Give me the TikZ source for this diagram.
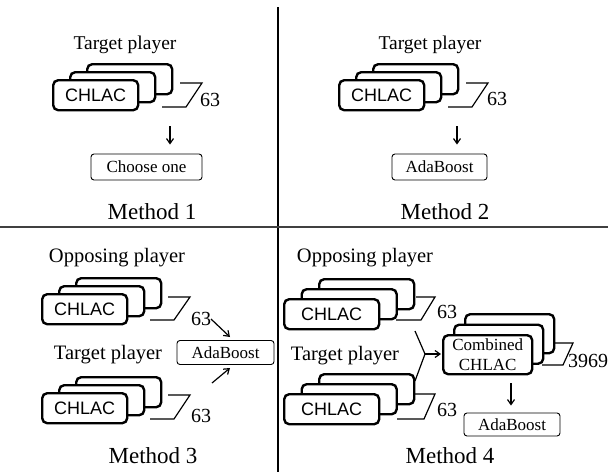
\documentclass[tikz,border=0pt]{standalone}
\usepackage{fontspec}
\setmainfont{Liberation Serif}
\newfontfamily\chsans{Liberation Sans}
\usetikzlibrary{arrows.meta}
\begin{document}
\begin{tikzpicture}[x=1pt,y=-1pt,
  cbox/.style={draw, line width=2.4pt, rounded corners=5pt, fill=white, inner sep=0pt, anchor=north west},
  sbox/.style={cbox, minimum width=85pt, minimum height=30pt},
  wbox/.style={cbox, minimum width=95pt, minimum height=30pt},
  kbox/.style={cbox, minimum width=89pt, minimum height=39pt},
  chl/.style={font=\chsans\fontsize{18}{20}\selectfont},
  obox/.style={draw, line width=0.9pt, rounded corners=3pt, inner sep=0pt, font=\fontsize{17}{20}\selectfont},
  ttl/.style={inner sep=0pt, font=\fontsize{19.5}{22}\selectfont},
  ttlb/.style={inner sep=0pt, font=\fontsize{20.5}{22}\selectfont},
  num/.style={inner sep=0pt, font=\fontsize{20}{22}\selectfont},
  mlbl/.style={inner sep=0pt, font=\fontsize{23}{26}\selectfont},
  par/.style={line width=1.2pt, line join=miter},
  arr/.style={line width=1.2pt, -{Straight Barb[length=5pt,width=7pt]}},
  divl/.style={line width=1.3pt}]
\useasboundingbox (0,0) rectangle (608,472);
% dividers
\coordinate (vt) at (278,7); \coordinate (vb) at (278,472);
\coordinate (hl) at (0,227); \coordinate (hr) at (608,227);
\draw[divl] (vt) -- (vb);
\draw[divl, black!75] (hl) -- (hr);

% ---------- Method 1 ----------
\node[ttl] (t1) at (125,45) {Target player};
\draw[par] (180,83) -- (202,83) -- (186,107) -- (162,107);
\node[sbox] (s1b) at (86,63) {};
\node[sbox] (s1m) at (69,71) {};
\node[sbox, chl] (s1f) at (52,79) {CHLAC};
\node[num] (n1) at (210,100) {63};
\node[obox, minimum width=111pt, minimum height=26pt] (c1) at (146.5,167) {Choose one};
\coordinate (a1s) at (170,126);
\draw[arr, shorten >=9pt] (a1s) -- (a1s |- c1.north);
\node[mlbl] (m1) at (152,212) {Method 1};

% ---------- Method 2 ----------
\node[ttl] (t2) at (430,45) {Target player};
\draw[par] (466,83) -- (488,83) -- (472,107) -- (448,107);
\node[sbox] (s2b) at (372,63) {};
\node[sbox] (s2m) at (355,71) {};
\node[sbox, chl] (s2f) at (338,79) {CHLAC};
\node[num] (n2) at (497,99) {63};
\node[obox, minimum width=95pt, minimum height=26pt] (c2) at (439.5,167) {AdaBoost};
\coordinate (a2s) at (457,126);
\draw[arr, shorten >=9pt] (a2s) -- (a2s |- c2.north);
\node[mlbl] (m2) at (445,212) {Method 2};

% ---------- Method 3 ----------
\node[ttlb] (o3) at (117,258) {Opposing player};
\draw[par] (168,297) -- (190,297) -- (174,320) -- (150,320);
\node[sbox] (s3b) at (75,277) {};
\node[sbox] (s3m) at (58,285) {};
\node[sbox, chl] (s3f) at (41,293) {CHLAC};
\node[num] (n3a) at (201,319) {63};
\node[ttlb] (t3) at (108,355) {Target player};
\draw[par] (168,395) -- (190,395) -- (174,419) -- (150,419);
\node[sbox] (s3bb) at (75,376) {};
\node[sbox] (s3mb) at (58,384) {};
\node[sbox, chl] (s3fb) at (41,392) {CHLAC};
\node[num] (n3b) at (201,416) {63};
\node[obox, minimum width=97pt, minimum height=24pt] (c3) at (225.5,352.5) {AdaBoost};
\coordinate (a3s1) at (211,319); \coordinate (a3e1) at (230,337);
\coordinate (a3s2) at (212,383); \coordinate (a3e2) at (230,368);
\draw[arr] (a3s1) -- (a3e1);
\draw[arr] (a3s2) -- (a3e2);
\node[mlbl] (m3) at (153,456) {Method 3};

% ---------- Method 4 ----------
\node[ttlb] (o4) at (365,258) {Opposing player};
\draw[par] (416,297) -- (435,297) -- (421,320) -- (396,320);
\node[wbox] (s4b) at (318,278) {};
\node[wbox] (s4m) at (300.5,288) {};
\node[wbox, chl] (s4f) at (283,298) {CHLAC};
\node[num] (n4a) at (447,312) {63};
\node[ttlb] (t4) at (345,356) {Target player};
\draw[par] (415,394) -- (435,394) -- (424,419) -- (397,419);
\node[wbox] (s4bb) at (318,373) {};
\node[wbox] (s4mb) at (300.5,383) {};
\node[wbox, chl] (s4fb) at (283,393) {CHLAC};
\node[num] (n4b) at (447,410) {63};
% combined
\draw[par] (553,343) -- (573,343) -- (563,365) -- (542,365);
\node[kbox] (k4b) at (464,313) {};
\node[kbox] (k4m) at (453,323.5) {};
\node[kbox, align=center, font=\fontsize{17}{20}\selectfont] (k4f) at (442,334) {Combined\\CHLAC};
\node[num] (n4c) at (588,361) {3969};
\coordinate (mg1) at (415,331); \coordinate (mg2) at (415,381); \coordinate (mj) at (425,354);
\draw[line width=1.2pt] (mg1) -- (mj) -- (mg2);
\draw[arr, shorten >=1pt] (mj) -- (k4f.west |- mj);
\node[obox, minimum width=96pt, minimum height=23pt] (c4) at (512,424.5) {AdaBoost};
\coordinate (a4s) at (511,383);
\draw[arr, shorten >=7pt] (a4s) -- (a4s |- c4.north);
\node[mlbl] (m4) at (450,456) {Method 4};
\end{tikzpicture}
\end{document}
